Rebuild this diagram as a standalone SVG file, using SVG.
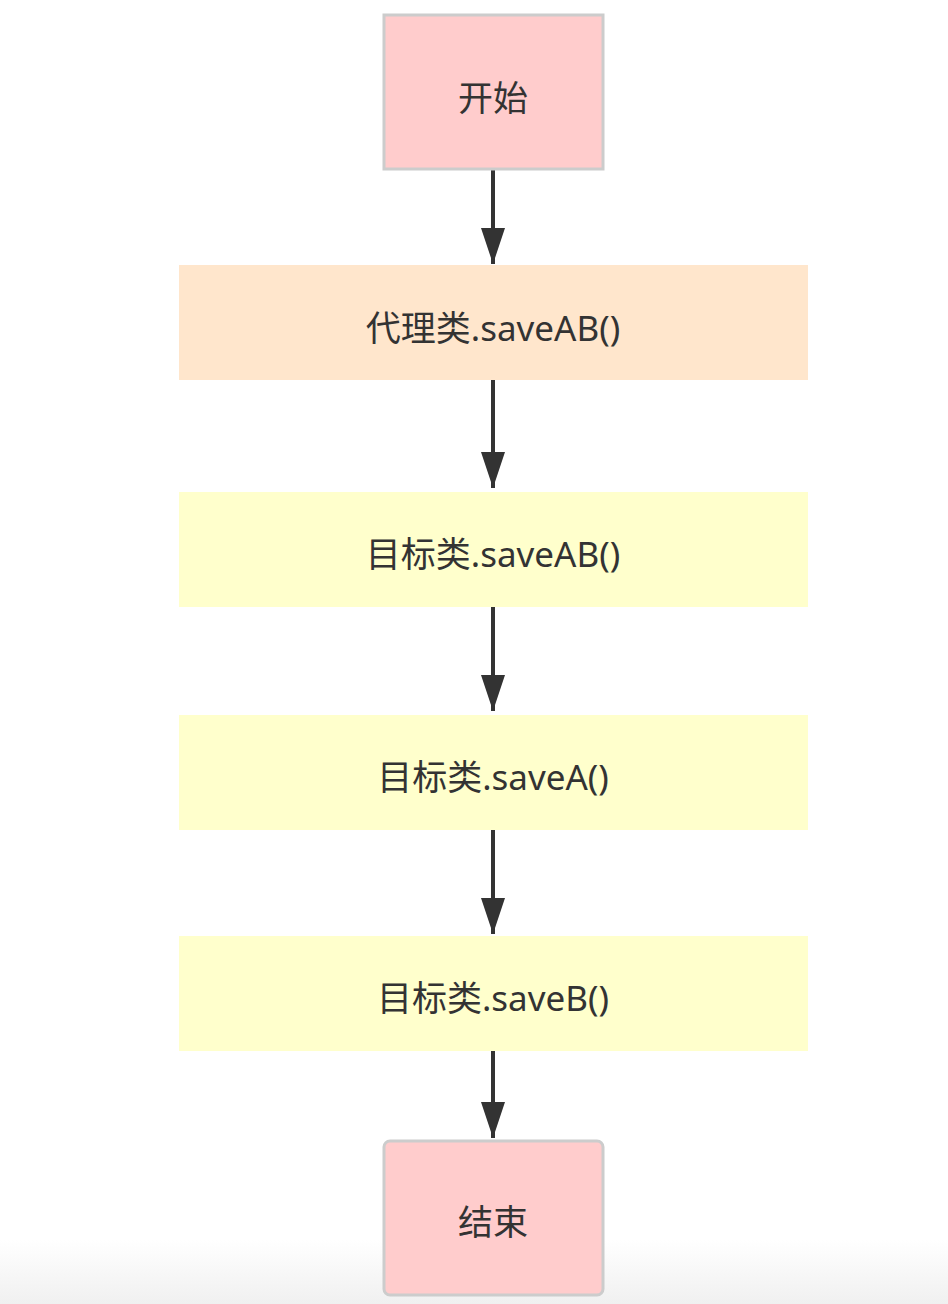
<svg xmlns="http://www.w3.org/2000/svg" width="948" height="1304" viewBox="0 0 948 1304">
<style>
.t{font-family:"Noto Sans","Noto Sans CJK SC",sans-serif;font-size:35px;fill:#333333;text-anchor:middle;dominant-baseline:central}
.term{fill:#ffcccc;stroke:#cccccc;stroke-width:3}
.proxy{fill:#ffe6cc}
.target{fill:#ffffcc}
.c{stroke:#333333;stroke-width:4;fill:none;marker-end:url(#ah)}
</style>
<defs>
<marker id="ah" viewBox="0 0 36 24" refX="36" refY="12" markerWidth="36" markerHeight="24" markerUnits="userSpaceOnUse" orient="auto">
<path d="M0,0 L36,12 L0,24 Z" fill="#333333"/>
</marker>
<linearGradient id="bg" x1="0" y1="0" x2="0" y2="1">
<stop offset="0" stop-color="#ffffff"/>
<stop offset="1" stop-color="#f0f0f0"/>
</linearGradient>
</defs>
<rect width="948" height="1304" fill="#ffffff"/>
<rect y="1240" width="948" height="64" fill="url(#bg)"/>
<g id="connectors">
<path class="c" d="M493,170 V264"/>
<path class="c" d="M493,380 V488"/>
<path class="c" d="M493,607 V711"/>
<path class="c" d="M493,830 V934"/>
<path class="c" d="M493,1051 V1138"/>
</g>
<g id="start">
<rect class="term" x="384" y="15" width="219" height="154"/>
<text class="t" x="493" y="97">开始</text>
</g>
<g id="proxy">
<rect class="proxy" x="179" y="265" width="629" height="115"/>
<text class="t" x="493" y="327">代理类.saveAB()</text>
</g>
<g id="targetAB">
<rect class="target" x="179" y="492" width="629" height="115"/>
<text class="t" x="493" y="553">目标类.saveAB()</text>
</g>
<g id="targetA">
<rect class="target" x="179" y="715" width="629" height="115"/>
<text class="t" x="493" y="776">目标类.saveA()</text>
</g>
<g id="targetB">
<rect class="target" x="179" y="936" width="629" height="115"/>
<text class="t" x="493" y="997">目标类.saveB()</text>
</g>
<g id="end">
<rect class="term" x="384" y="1141" width="219" height="154" rx="6" ry="6"/>
<text class="t" x="493" y="1221">结束</text>
</g>
</svg>
